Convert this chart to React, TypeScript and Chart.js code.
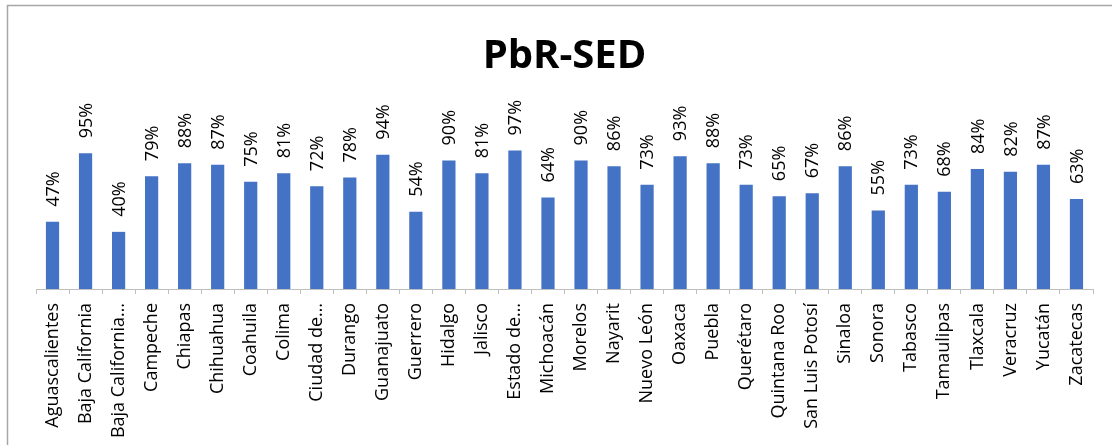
import React, { useEffect, useRef } from "react";
import { Chart, registerables } from "chart.js";

Chart.register(...registerables);

const categories: string[] = [
  "Aguascalientes", "Baja California", "Baja California…", "Campeche", "Chiapas",
  "Chihuahua", "Coahuila", "Colima", "Ciudad de…", "Durango", "Guanajuato",
  "Guerrero", "Hidalgo", "Jalisco", "Estado de…", "Michoacán", "Morelos",
  "Nayarit", "Nuevo León", "Oaxaca", "Puebla", "Querétaro", "Quintana Roo",
  "San Luis Potosí", "Sinaloa", "Sonora", "Tabasco", "Tamaulipas", "Tlaxcala",
  "Veracruz", "Yucatán", "Zacatecas",
];

const values: number[] = [
  47, 95, 40, 79, 88, 87, 75, 81, 72, 78, 94, 54, 90, 81, 97, 64, 90, 86, 73,
  93, 88, 73, 65, 67, 86, 55, 73, 68, 84, 82, 87, 63,
];

const title = "PbR-SED";
const FONT = "'Open Sans', sans-serif";

const borderPlugin = {
  id: "frameBorder",
  beforeDraw(chart: any) {
    const ctx = chart.ctx;
    ctx.save();
    ctx.strokeStyle = "#a6a6a6";
    ctx.lineWidth = 1.5;
    ctx.beginPath();
    ctx.moveTo(7.5, chart.height + 5);
    ctx.lineTo(7.5, 5.5);
    ctx.lineTo(chart.width + 5, 5.5);
    ctx.stroke();
    ctx.restore();
  },
};

const valueLabelPlugin = {
  id: "valueLabels",
  afterDatasetsDraw(chart: any) {
    const ctx = chart.ctx;
    const meta = chart.getDatasetMeta(0);
    const data = chart.data.datasets[0].data as number[];
    ctx.save();
    ctx.fillStyle = "#000";
    ctx.font = `18px ${FONT}`;
    ctx.textAlign = "left";
    ctx.textBaseline = "middle";
    meta.data.forEach((bar: any, i: number) => {
      ctx.save();
      ctx.translate(bar.x + 1, bar.y - 15);
      ctx.rotate(-Math.PI / 2);
      ctx.fillText(`${data[i]}%`, 0, 0);
      ctx.restore();
    });
    ctx.restore();
  },
};

export default function App() {
  const ref = useRef<HTMLCanvasElement | null>(null);

  useEffect(() => {
    if (!ref.current) return;
    const chart = new Chart(ref.current, {
      type: "bar",
      data: {
        labels: categories,
        datasets: [
          {
            data: values,
            backgroundColor: "#4472C4",
            borderWidth: 0,
            barPercentage: 0.4,
            categoryPercentage: 1,
          },
        ],
      },
      options: {
        animation: false,
        responsive: false,
        layout: { padding: { left: 36, right: 19, top: 0, bottom: 0 } },
        plugins: {
          legend: { display: false },
          tooltip: { enabled: false },
          title: {
            display: true,
            text: title,
            color: "#000",
            font: { family: FONT, size: 40, weight: "bold", lineHeight: 1.2 },
            padding: { top: 33, bottom: 8 },
          },
        },
        scales: {
          x: {
            offset: true,
            grid: {
              display: true,
              drawOnChartArea: false,
              drawTicks: true,
              tickLength: 5,
              color: "#bfbfbf",
              offset: true,
            },
            border: { display: true, color: "#bfbfbf", width: 1 },
            ticks: {
              autoSkip: false,
              minRotation: 90,
              maxRotation: 90,
              padding: 9,
              color: "#000",
              font: { family: FONT, size: 18 },
            },
            afterFit(s: any) {
              s.height = 445 - 289;
              s.paddingLeft = 0;
              s.paddingRight = 0;
            },
          },
          y: {
            display: false,
            min: 0,
            max: 140,
          },
        },
      },
      plugins: [borderPlugin, valueLabelPlugin],
    });
    return () => chart.destroy();
  }, []);

  return (
    <canvas
      ref={ref}
      width={1112}
      height={445}
      style={{ position: "fixed", left: 0, top: 0, display: "block" }}
    />
  );
}
